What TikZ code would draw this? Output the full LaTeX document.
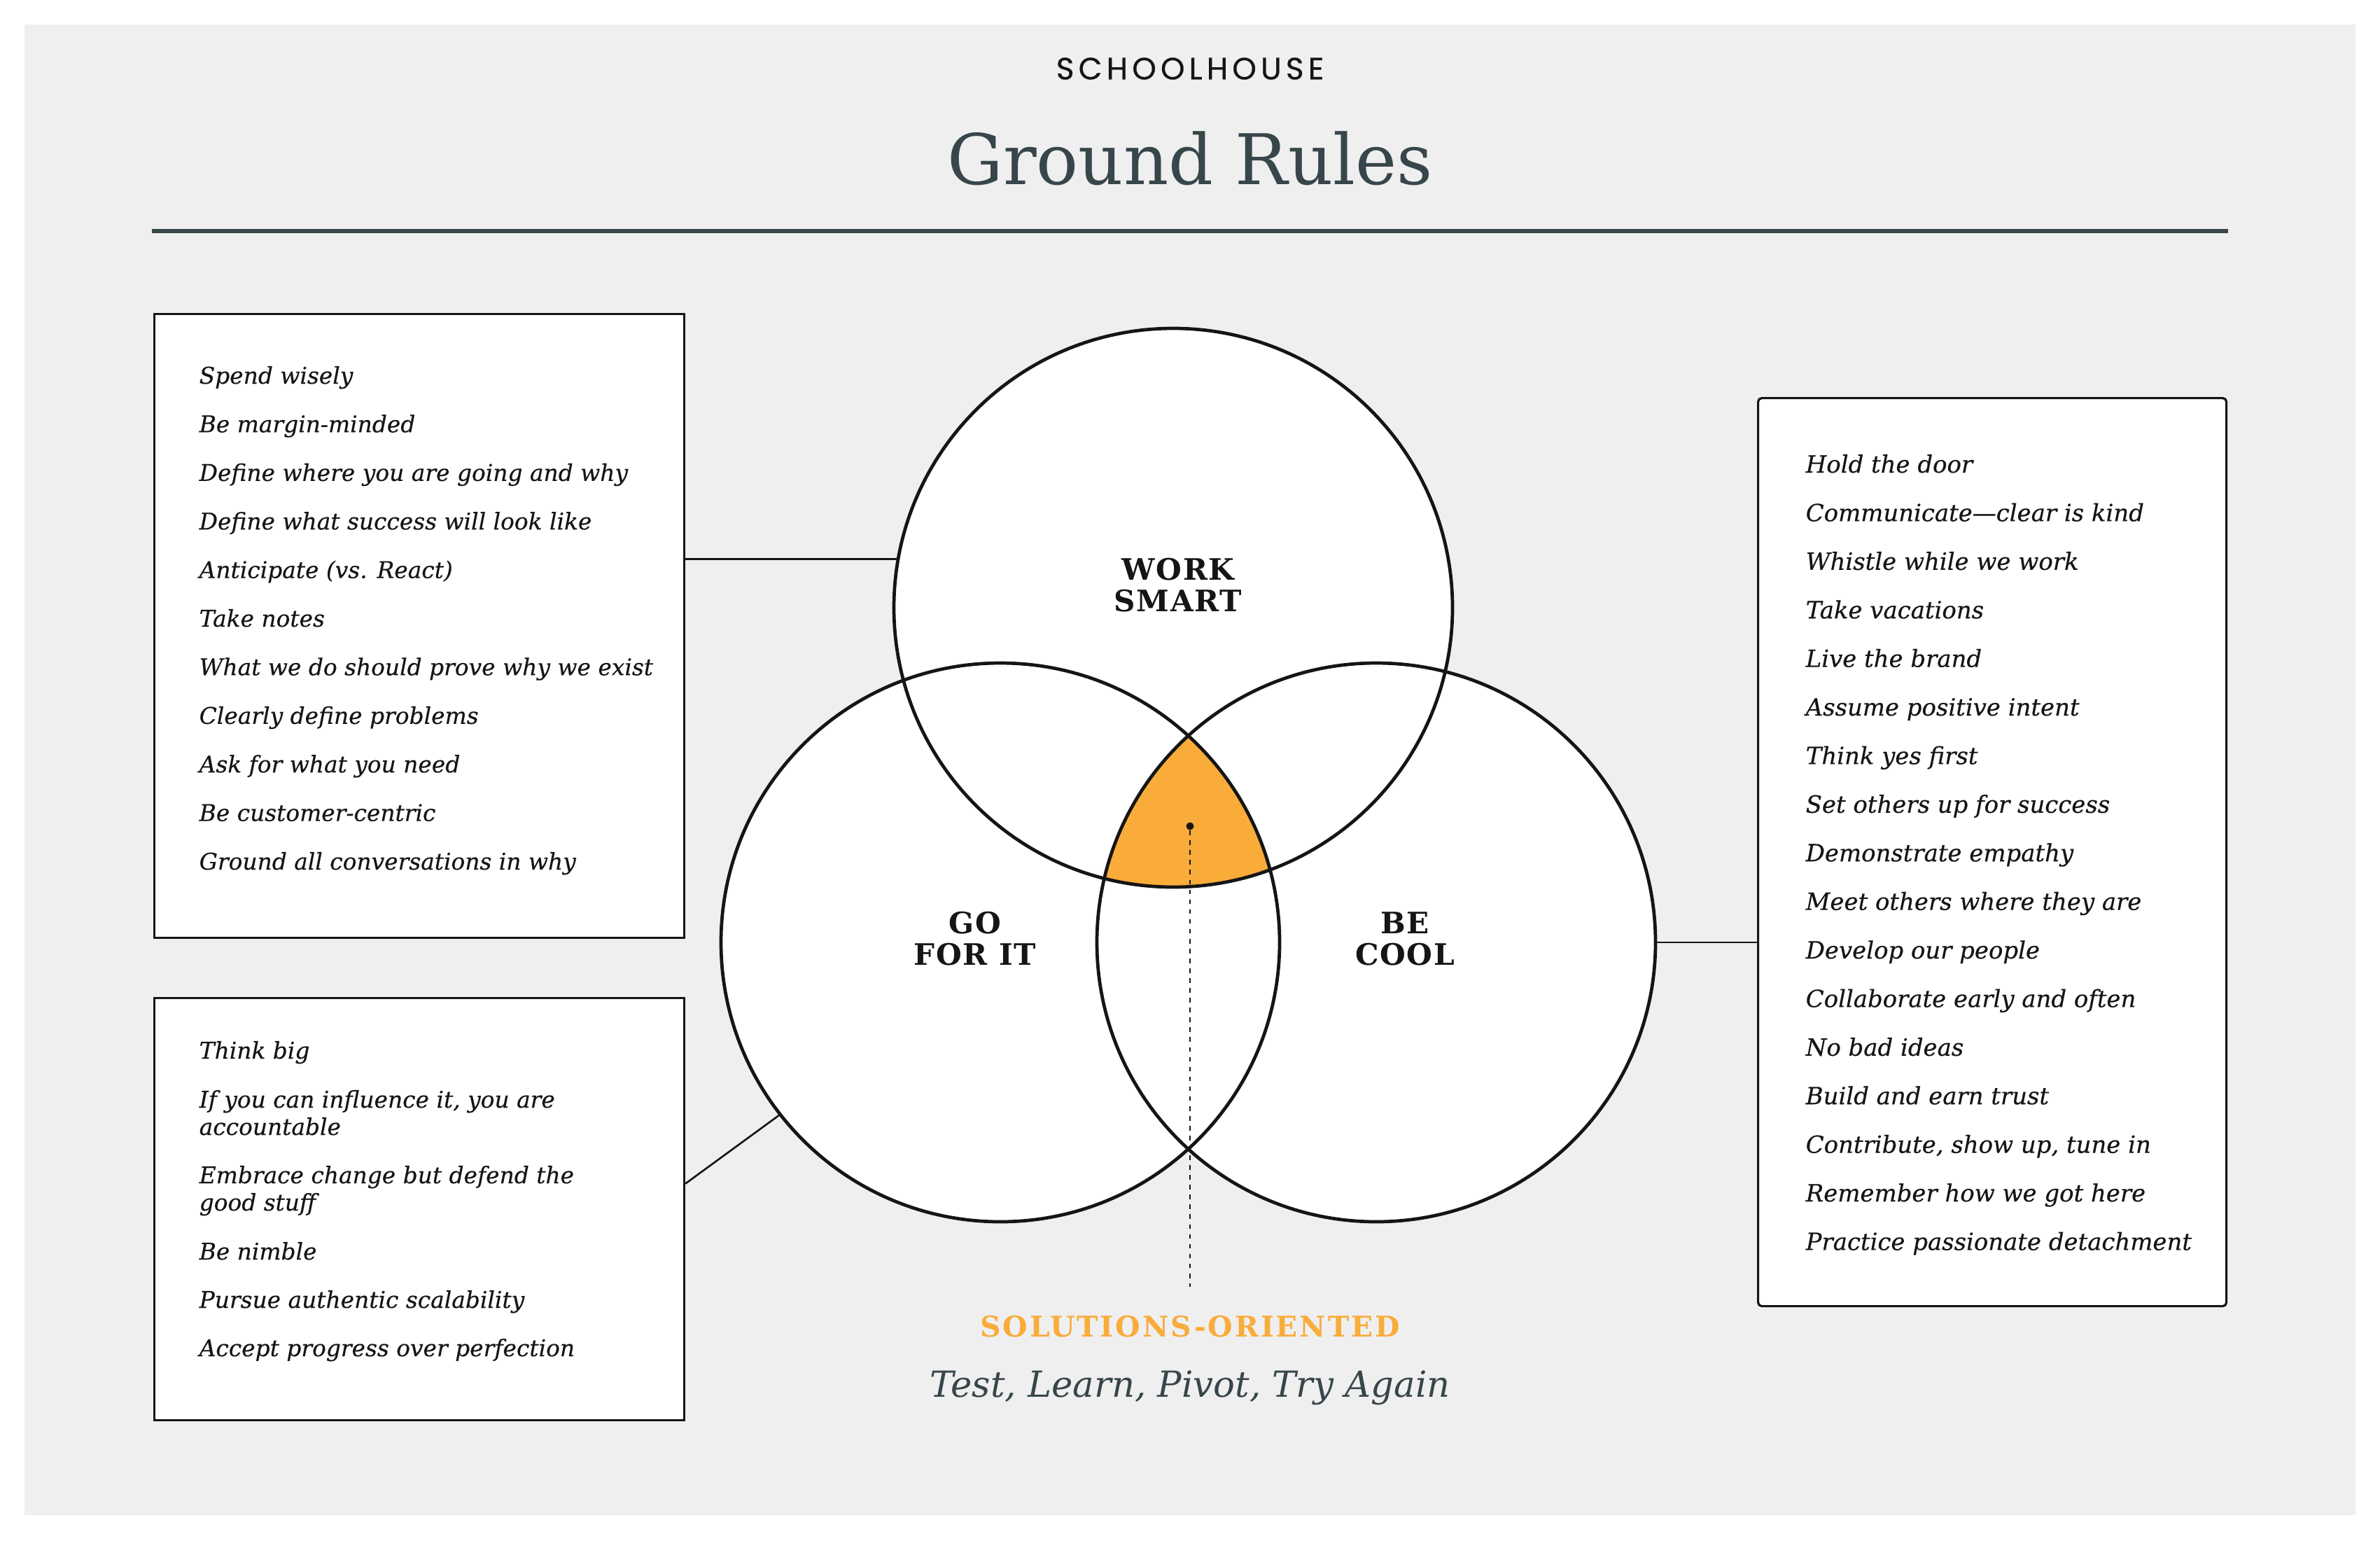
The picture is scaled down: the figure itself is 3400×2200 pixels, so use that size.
\documentclass[tikz,border=0pt]{standalone}
\usepackage{fontspec}
\setmainfont{DejaVu Serif}
\newfontfamily\brandfont{Poppins}[LetterSpace=14, FakeBold=0.6]
\newfontfamily\capsfont{DejaVu Serif}[LetterSpace=4]
\newfontfamily\listfont{DejaVu Serif}[FakeBold=0.4]
\usepackage{xcolor}
\usetikzlibrary{positioning, calc}

\definecolor{paper}{HTML}{EFEFEF}
\definecolor{slate}{HTML}{37464A}
\definecolor{amber}{HTML}{F9AC3A}
\definecolor{ink}{HTML}{151515}

\begin{document}
\begin{tikzpicture}[x=0.1mm, y=-0.1mm,
    ring/.style={circle, minimum size=79.8mm, inner sep=0pt, fill=white},
    ringline/.style={draw=ink, line width=1.35pt},
    panel/.style={draw=ink, fill=white, line width=0.9pt, anchor=north west, inner sep=0pt},
    wire/.style={draw=ink, line width=0.75pt},
    leader/.style={draw=ink, line width=0.7pt, dash pattern=on 1.9pt off 2.1pt},
    item/.style={anchor=base west, inner sep=0pt, text=ink, font=\listfont\fontsize{9.35}{12}\selectfont\itshape},
    wideitem/.style={item, font=\listfont\fontsize{9.65}{12}\selectfont\itshape},
    tag/.style={align=center, inner sep=0pt, text=ink, font=\capsfont\bfseries\fontsize{12}{12.8}\selectfont}]
    \useasboundingbox (0,0) rectangle (3400,2200);
    \fill[white] (0,0) rectangle (3400,2200);
    \fill[paper] (35,35) rectangle (3365,2164);

    \node[text=ink, font=\brandfont\fontsize{12.5}{15}\selectfont] (brand) at (1700,98) {SCHOOLHOUSE};
    \node[anchor=base, text=slate, font=\fontsize{28.4}{34}\selectfont] (title) at (1700,263) {Ground Rules};
    \draw[slate, line width=1.7pt] (217,330) -- (3183,330);

    \node[ring] (smart) at (1676,868) {};
    \node[ring] (gofor) at (1429,1346) {};
    \node[ring] (cool)  at (1966,1346) {};
    \begin{scope}
        \clip (smart.center) circle[radius=399];
        \clip (gofor.center) circle[radius=399];
        \fill[amber] (cool.center) circle[radius=399];
    \end{scope}
    \foreach \c in {smart,gofor,cool}
        \draw[ringline] (\c.center) circle[radius=399];

    \node[tag] (smartlbl) at (1683,836)  {WORK\\SMART};
    \node[tag] (goforlbl) at (1393,1341) {GO\\FOR IT};
    \node[tag] (coollbl)  at (2007,1341) {BE\\COOL};

    \node[panel, minimum width=75.7mm, minimum height=89.1mm] (smartbox) at (219,447) {};
    \node[panel, minimum width=75.7mm, minimum height=60.3mm] (goforbox) at (219,1424) {};
    \node[panel, minimum width=66.9mm, minimum height=129.7mm, rounded corners=1.5pt] (coolbox) at (2510,567) {};

    \draw[wire] (smart.170.2) -- (smart.170.2 -| smartbox.east);
    \draw[wire] (gofor.218.7) -- ([yshift=3.65mm]goforbox.east);
    \draw[wire] (cool.east) -- (cool.east -| coolbox.west);

    \foreach \txt [count=\n] in {Spend wisely, Be margin-minded, Define where you are going and why,
        Define what success will look like, Anticipate (vs. React), Take notes,
        What we do should prove why we exist, Clearly define problems, Ask for what you need,
        Be customer-centric, Ground all conversations in why}
        \node[item] (s\n) at (284, 478.6+69.4*\n) {\txt};

    \foreach \y/\txt [count=\n] in {1512/Think big, 1582/{If you can influence it, you are}, 1621/accountable,
        1690/Embrace change but defend the, 1729/good stuff, 1799/Be nimble,
        1868/Pursue authentic scalability, 1937/Accept progress over perfection}
        \node[item] (g\n) at (284,\y) {\txt};

    \foreach \txt [count=\n] in {Hold the door, Communicate—clear is kind, Whistle while we work,
        Take vacations, Live the brand, Assume positive intent, Think yes first,
        Set others up for success, Demonstrate empathy, Meet others where they are,
        Develop our people, Collaborate early and often, No bad ideas, Build and earn trust,
        {Contribute, show up, tune in}, Remember how we got here, Practice passionate detachment}
        \node[wideitem] (c\n) at (2579, 605.6+69.4*\n) {\txt};

    \node[circle, fill=ink, minimum size=1.1mm, inner sep=0pt] (hub) at (1700,1180) {};
    \coordinate (foot) at (1700,1838);
    \draw[leader] (hub) -- (foot);

    \node[text=amber, font=\capsfont\bfseries\addfontfeature{LetterSpace=7}\fontsize{11.6}{13}\selectfont] (solve) at (1700,1895) {SOLUTIONS-ORIENTED};
    \node[anchor=base, text=slate, font=\fontsize{14.6}{18}\selectfont\itshape] (motto) at (1700,1995) {Test, Learn, Pivot, Try Again};
\end{tikzpicture}
\end{document}
